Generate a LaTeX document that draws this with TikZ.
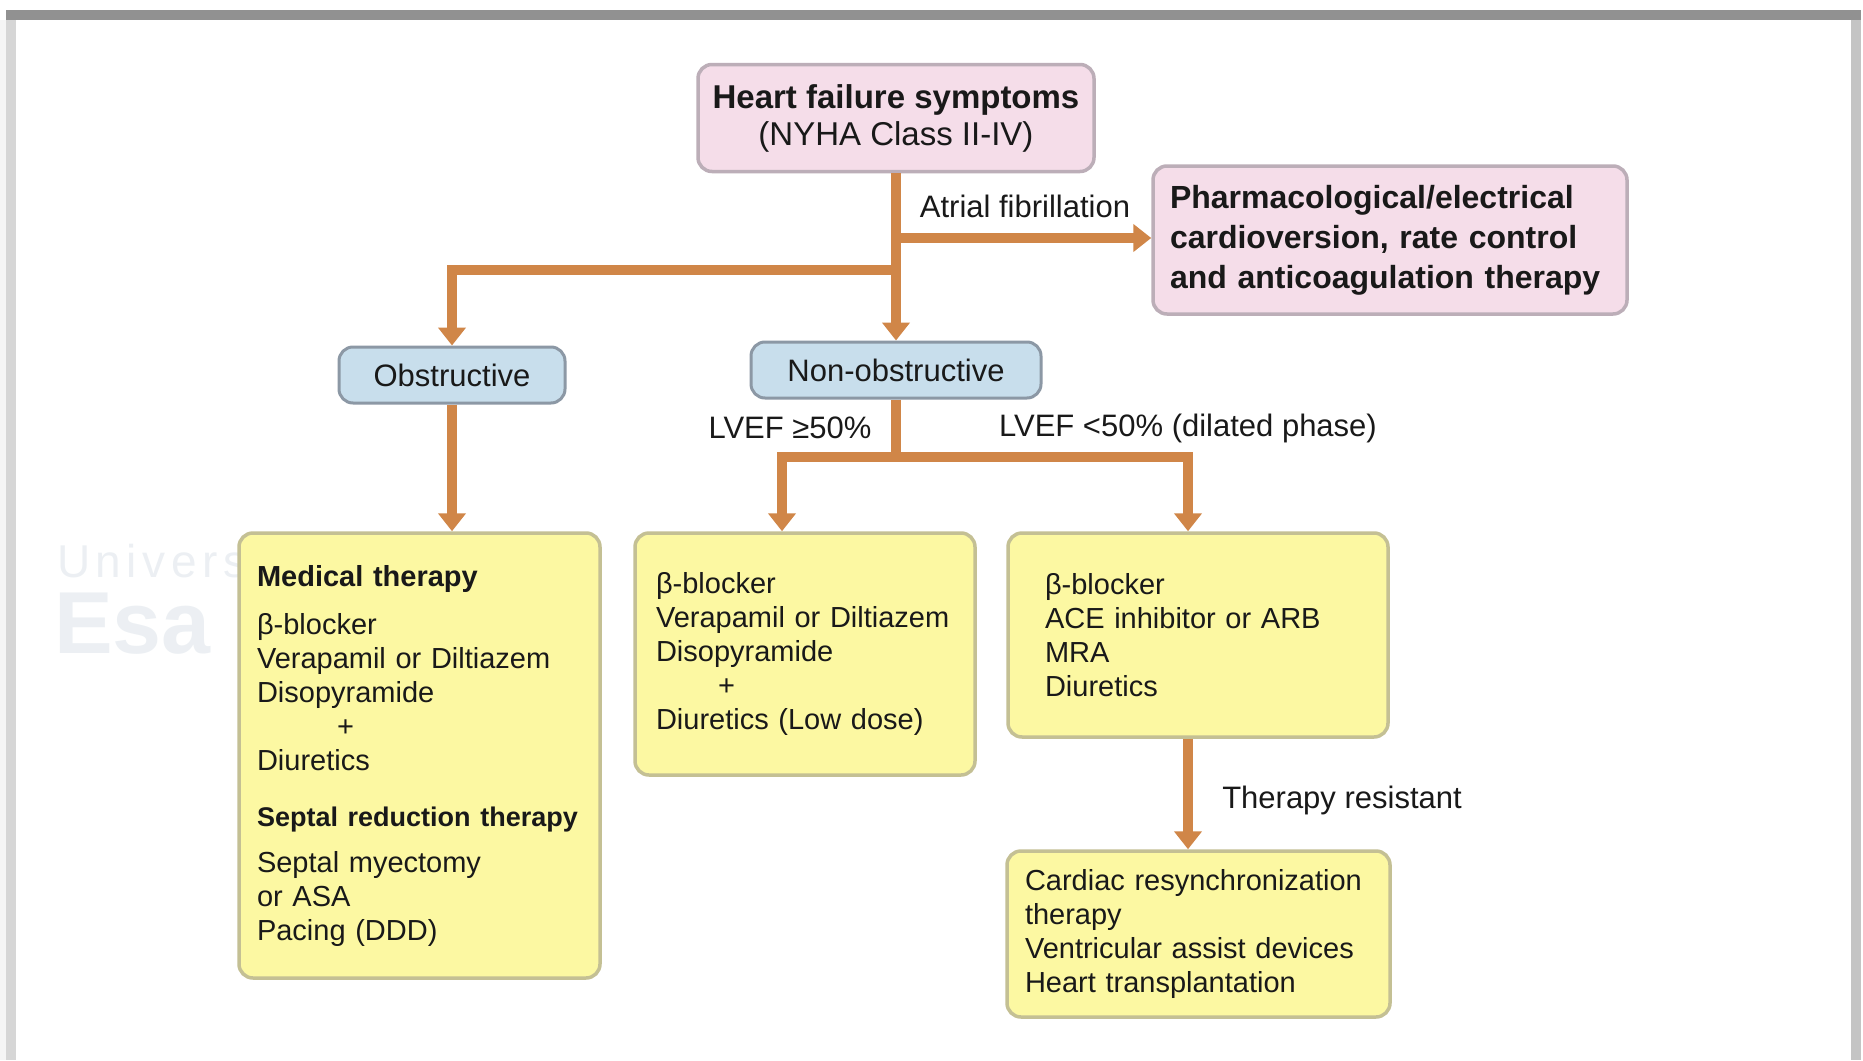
\documentclass[tikz,border=0pt]{standalone}
\usepackage{fontspec}
\setmainfont{Liberation Sans}
\usetikzlibrary{arrows.meta}
\definecolor{connc}{RGB}{208,134,72}
\definecolor{yfill}{RGB}{252,248,162}
\definecolor{ydraw}{RGB}{196,192,148}
\definecolor{pfill}{RGB}{245,221,233}
\definecolor{pdraw}{RGB}{188,174,184}
\definecolor{bfill}{RGB}{200,222,236}
\definecolor{bdraw}{RGB}{140,152,165}
\definecolor{wmc}{RGB}{100,130,160}
\definecolor{txt}{RGB}{25,25,25}
\begin{document}
\begin{tikzpicture}[x=1pt,y=-1pt,
  flow/.style={draw=connc, line width=10pt},
  flowarrow/.style={flow, -{Triangle[length=18pt,width=27pt]}},
  ybox/.style={draw=ydraw, fill=yfill, line width=3.5pt, rounded corners=14pt,
    align=left, text=txt, font=\fontsize{29}{34}\selectfont, inner ysep=0pt},
  pbox/.style={draw=pdraw, fill=pfill, line width=3.5pt, rounded corners=14pt,
    text=txt, inner ysep=0pt},
  bbox/.style={draw=bdraw, fill=bfill, line width=3pt, rounded corners=14pt,
    text=txt, font=\fontsize{31}{34}\selectfont, inner sep=0pt},
  lbl/.style={text=txt, font=\fontsize{31}{34}\selectfont, inner sep=0pt},
  wmark/.style={text=wmc, text opacity=0.12, inner sep=0pt, anchor=west}
]
\useasboundingbox (0,0) rectangle (1863,1060);
\fill[white] (0,0) rectangle (1863,1060);
% frame
\fill[black!4] (0,20) rectangle (6,1060);
\fill[black!16] (6,20) rectangle (16,1060);
\fill[black!23] (1851,20) rectangle (1861,1060);
\fill[black!43] (6,10) rectangle (1861,20);

% watermark (behind the boxes)
\node[wmark, font=\fontsize{46}{46}\selectfont\addfontfeature{LetterSpace=12}] (wm1) at (57,561) {Univers};
\node[wmark, font=\bfseries\fontsize{88}{88}\selectfont] (wm2) at (54,624) {Esa};

% nodes
\node[pbox, minimum width=396pt, minimum height=107pt, align=center,
  font=\fontsize{33}{37}\selectfont] (top) at (896,118)
  {\textbf{Heart failure symptoms}\\(NYHA Class II-IV)};
\node[pbox, text width=440pt, inner xsep=17pt, minimum height=148pt, align=left,
  font=\bfseries\fontsize{32}{40}\selectfont] (af) at (1390,240)
  {Pharmacological/electrical\\cardioversion, rate control\\and anticoagulation therapy};
\node[bbox, minimum width=226pt, minimum height=56pt] (obs) at (452,375) {Obstructive};
\node[bbox, minimum width=290pt, minimum height=56pt] (nonobs) at (896,370) {Non-obstructive};

\node[ybox, text width=333pt, inner xsep=14pt, minimum height=445pt] (lbox) at (419.5,755.5)
  {\hspace*{4pt}\textbf{Medical therapy}\\[14pt]
   \hspace*{4pt}β-blocker\\
   \hspace*{4pt}Verapamil or Diltiazem\\
   \hspace*{4pt}Disopyramide\\
   \hspace*{84pt}+\\
   \hspace*{4pt}Diuretics\\[22pt]
   \hspace*{4pt}\mbox{\fontsize{27}{34}\selectfont\textbf{Septal reduction therapy}}\\[12pt]
   \hspace*{4pt}Septal myectomy\\
   \hspace*{4pt}or ASA\\
   \hspace*{4pt}Pacing (DDD)};
\node[ybox, text width=298pt, inner xsep=21pt, minimum height=242pt] (mbox) at (805,654)
  {β-blocker\\
   Verapamil or Diltiazem\\
   Disopyramide\\
   \hspace*{62pt}+\\
   Diuretics (Low dose)};
\node[ybox, text width=306pt, inner xsep=37pt, minimum height=204pt] (rbox) at (1198,635)
  {β-blocker\\
   ACE inhibitor or ARB\\
   MRA\\
   Diuretics};
\node[ybox, text width=347pt, inner xsep=18pt, minimum height=166pt] (bbox) at (1198.5,934)
  {Cardiac resynchronization\\
   therapy\\
   Ventricular assist devices\\
   Heart transplantation};

% junction coordinates
\coordinate (afj) at (896,238);
\coordinate (lj) at (896,270);
\coordinate (nj) at (896,457);
\coordinate (ml) at (782,457);
\coordinate (mr) at (1188,457);

% connectors
\draw[flowarrow] (top.south) -- (nonobs.north);
\draw[flowarrow] (afj) -- (afj -| af.west);
\draw[flowarrow] (lj) -| (obs.north);
\draw[flowarrow] (obs.south) -- (obs.south |- lbox.north);
\draw[flow] (nonobs.south) -- (nj);
\draw[flow, line cap=rect] (ml) -- (mr);
\draw[flowarrow] (ml) -- (ml |- mbox.north);
\draw[flowarrow] (mr) -- (mr |- rbox.north);
\draw[flowarrow] (mr |- rbox.south) -- (mr |- bbox.north);

% labels
\node[lbl] (lafib) at (1025,206) {Atrial fibrillation};
\node[lbl] (lgt) at (790,428) {LVEF ≥50\%};
\node[lbl] (llt) at (1188,428) {LVEF <50\% (dilated phase)};
\node[lbl] (ltr) at (1342,800) {Therapy resistant};
\end{tikzpicture}
\end{document}
